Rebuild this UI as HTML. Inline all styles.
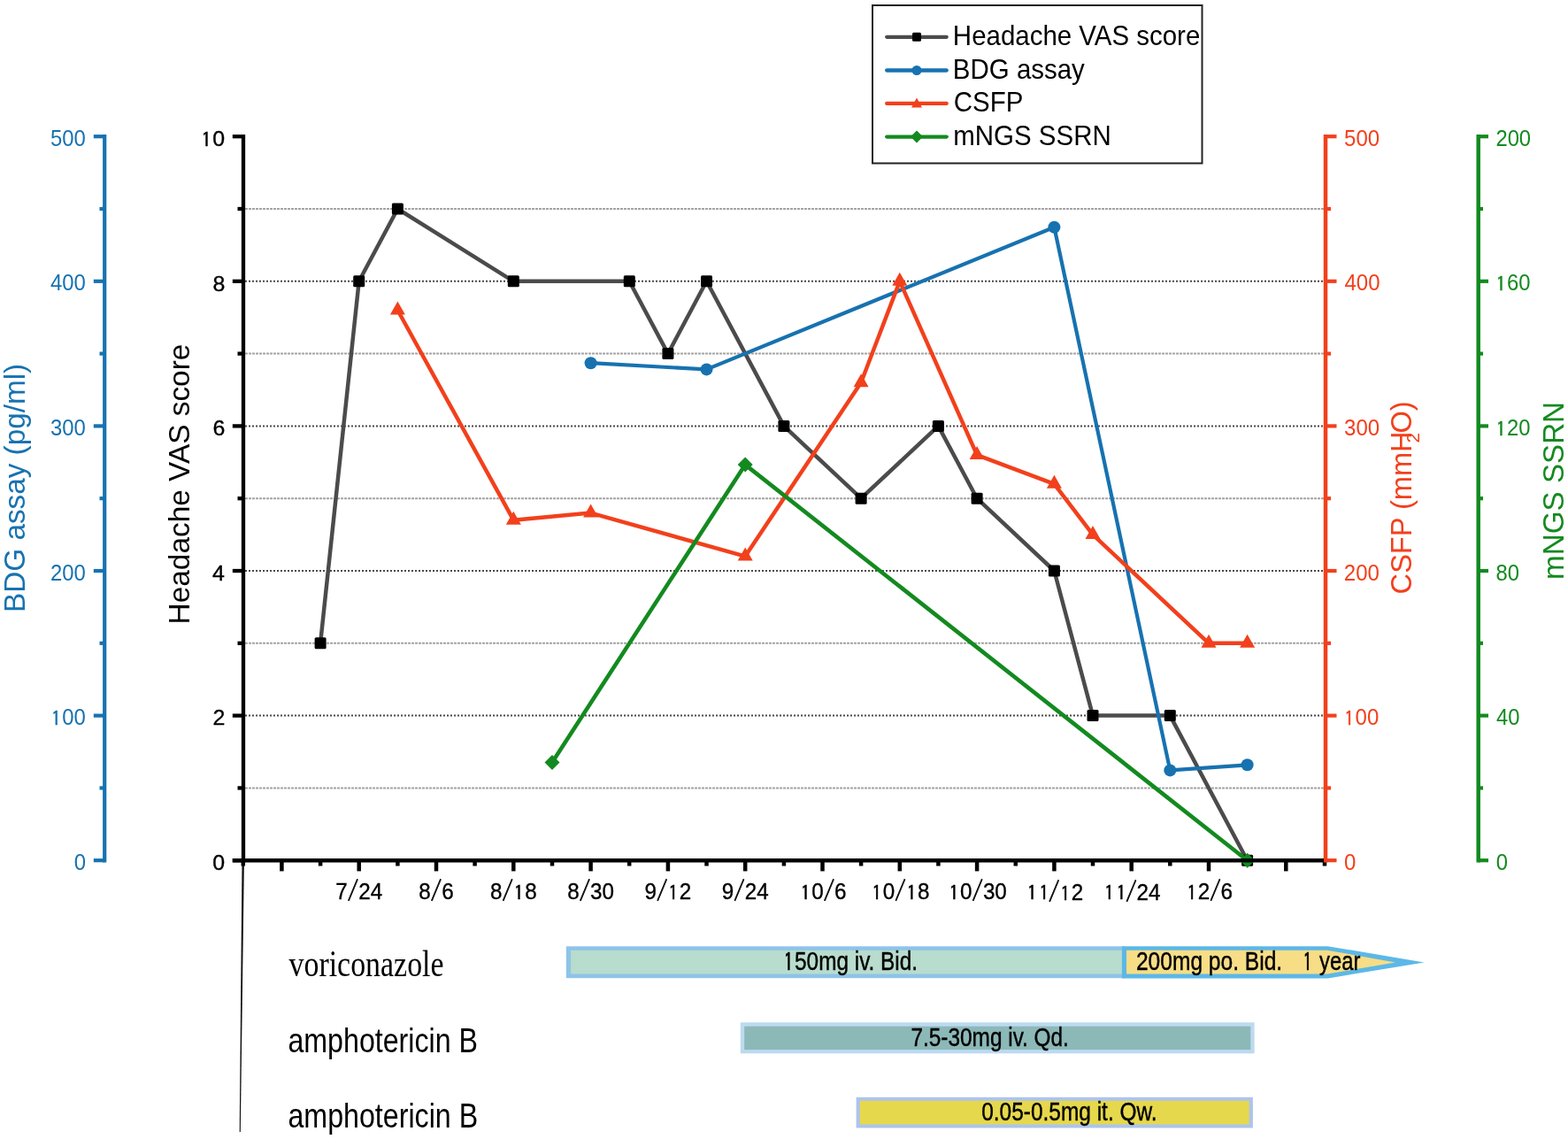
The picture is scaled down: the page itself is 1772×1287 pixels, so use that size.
<!DOCTYPE html><html><head><meta charset="utf-8"><title>Chart</title><style>html,body{margin:0;padding:0;background:#fff;}svg{display:block;}</style></head><body>
<svg width="1772" height="1287" viewBox="0 0 1772 1287">
<rect width="1772" height="1287" fill="#fff"/>
<line x1="277" y1="890.4" x2="1496" y2="890.4" stroke="#a4a4a4" stroke-width="2" stroke-dasharray="3 1"/>
<line x1="277" y1="808.6" x2="1496" y2="808.6" stroke="#4a4a4a" stroke-width="2" stroke-dasharray="2 2"/>
<line x1="277" y1="726.8" x2="1496" y2="726.8" stroke="#a4a4a4" stroke-width="2" stroke-dasharray="3 1"/>
<line x1="277" y1="645.0" x2="1496" y2="645.0" stroke="#4a4a4a" stroke-width="2" stroke-dasharray="2 2"/>
<line x1="277" y1="563.2" x2="1496" y2="563.2" stroke="#a4a4a4" stroke-width="2" stroke-dasharray="3 1"/>
<line x1="277" y1="481.4" x2="1496" y2="481.4" stroke="#4a4a4a" stroke-width="2" stroke-dasharray="2 2"/>
<line x1="277" y1="399.6" x2="1496" y2="399.6" stroke="#a4a4a4" stroke-width="2" stroke-dasharray="3 1"/>
<line x1="277" y1="317.8" x2="1496" y2="317.8" stroke="#4a4a4a" stroke-width="2" stroke-dasharray="2 2"/>
<line x1="277" y1="236.0" x2="1496" y2="236.0" stroke="#a4a4a4" stroke-width="2" stroke-dasharray="3 1"/>
<line x1="118.2" y1="152" x2="118.2" y2="974.5" stroke="#1772b0" stroke-width="4.2"/>
<line x1="105.8" y1="972.2" x2="118.2" y2="972.2" stroke="#1772b0" stroke-width="4.2"/>
<text transform="translate(83.63 982.8) scale(0.9450 1)" font-family="Liberation Sans, Arial, sans-serif" font-size="25.3" fill="#1772b0" color="#1772b0">0</text>
<line x1="112.5" y1="890.4" x2="118.2" y2="890.4" stroke="#1772b0" stroke-width="4.2"/>
<line x1="105.8" y1="808.6" x2="118.2" y2="808.6" stroke="#1772b0" stroke-width="4.2"/>
<text transform="translate(57.03 819.2) scale(0.9450 1)" font-family="Liberation Sans, Arial, sans-serif" font-size="25.3" fill="#1772b0" color="#1772b0"><tspan dx="1.27" dy="1.01" font-family="IPAGothic, sans-serif" font-size="22.01" stroke-width="0.51" stroke="currentColor">1</tspan><tspan dx="1.80" dy="-1.01">00</tspan></text>
<line x1="112.5" y1="726.8" x2="118.2" y2="726.8" stroke="#1772b0" stroke-width="4.2"/>
<line x1="105.8" y1="645.0" x2="118.2" y2="645.0" stroke="#1772b0" stroke-width="4.2"/>
<text transform="translate(57.03 655.6) scale(0.9450 1)" font-family="Liberation Sans, Arial, sans-serif" font-size="25.3" fill="#1772b0" color="#1772b0">200</text>
<line x1="112.5" y1="563.2" x2="118.2" y2="563.2" stroke="#1772b0" stroke-width="4.2"/>
<line x1="105.8" y1="481.4" x2="118.2" y2="481.4" stroke="#1772b0" stroke-width="4.2"/>
<text transform="translate(57.03 492.0) scale(0.9450 1)" font-family="Liberation Sans, Arial, sans-serif" font-size="25.3" fill="#1772b0" color="#1772b0">300</text>
<line x1="112.5" y1="399.6" x2="118.2" y2="399.6" stroke="#1772b0" stroke-width="4.2"/>
<line x1="105.8" y1="317.8" x2="118.2" y2="317.8" stroke="#1772b0" stroke-width="4.2"/>
<text transform="translate(57.03 328.4) scale(0.9450 1)" font-family="Liberation Sans, Arial, sans-serif" font-size="25.3" fill="#1772b0" color="#1772b0">400</text>
<line x1="112.5" y1="236.0" x2="118.2" y2="236.0" stroke="#1772b0" stroke-width="4.2"/>
<line x1="105.8" y1="154.2" x2="118.2" y2="154.2" stroke="#1772b0" stroke-width="4.2"/>
<text transform="translate(57.03 164.8) scale(0.9450 1)" font-family="Liberation Sans, Arial, sans-serif" font-size="25.3" fill="#1772b0" color="#1772b0">500</text>
<text transform="translate(28.2 551.4) rotate(-90)" text-anchor="middle" font-family="Liberation Sans, Arial, sans-serif" font-size="33.3" fill="#1772b0">BDG assay (pg/ml)</text>
<line x1="275" y1="152" x2="275" y2="974.5" stroke="#000" stroke-width="4.3"/>
<line x1="262.8" y1="972.2" x2="275" y2="972.2" stroke="#000" stroke-width="4.3"/>
<text stroke="#000" stroke-width="0.35" transform="translate(240.30 983.0) scale(1.0300 1)" font-family="Liberation Sans, Arial, sans-serif" font-size="24.2" fill="#000" color="#000">0</text>
<line x1="268.5" y1="890.4" x2="275" y2="890.4" stroke="#000" stroke-width="4.3"/>
<line x1="262.8" y1="808.6" x2="275" y2="808.6" stroke="#000" stroke-width="4.3"/>
<text stroke="#000" stroke-width="0.35" transform="translate(240.61 819.4) scale(1.0300 1)" font-family="Liberation Sans, Arial, sans-serif" font-size="24.2" fill="#000" color="#000">2</text>
<line x1="268.5" y1="726.8" x2="275" y2="726.8" stroke="#000" stroke-width="4.3"/>
<line x1="262.8" y1="645.0" x2="275" y2="645.0" stroke="#000" stroke-width="4.3"/>
<text stroke="#000" stroke-width="0.35" transform="translate(240.05 655.8) scale(1.0300 1)" font-family="Liberation Sans, Arial, sans-serif" font-size="24.2" fill="#000" color="#000">4</text>
<line x1="268.5" y1="563.2" x2="275" y2="563.2" stroke="#000" stroke-width="4.3"/>
<line x1="262.8" y1="481.4" x2="275" y2="481.4" stroke="#000" stroke-width="4.3"/>
<text stroke="#000" stroke-width="0.35" transform="translate(240.43 492.2) scale(1.0300 1)" font-family="Liberation Sans, Arial, sans-serif" font-size="24.2" fill="#000" color="#000">6</text>
<line x1="268.5" y1="399.6" x2="275" y2="399.6" stroke="#000" stroke-width="4.3"/>
<line x1="262.8" y1="317.8" x2="275" y2="317.8" stroke="#000" stroke-width="4.3"/>
<text stroke="#000" stroke-width="0.35" transform="translate(240.43 328.6) scale(1.0300 1)" font-family="Liberation Sans, Arial, sans-serif" font-size="24.2" fill="#000" color="#000">8</text>
<line x1="268.5" y1="236.0" x2="275" y2="236.0" stroke="#000" stroke-width="4.3"/>
<line x1="262.8" y1="154.2" x2="275" y2="154.2" stroke="#000" stroke-width="4.3"/>
<text stroke="#000" stroke-width="0.35" transform="translate(226.47 165.0) scale(1.0300 1)" font-family="Liberation Sans, Arial, sans-serif" font-size="24.2" fill="#000" color="#000"><tspan dx="1.21" dy="0.97" font-family="IPAGothic, sans-serif" font-size="21.05" stroke-width="0.48" stroke="currentColor">1</tspan><tspan dx="1.72" dy="-0.97">0</tspan></text>
<text transform="translate(213.5 547) rotate(-90)" text-anchor="middle" font-family="Liberation Sans, Arial, sans-serif" font-size="33.4" fill="#000">Headache VAS score</text>
<polygon points="273.5,974 275.9,974 271.8,1279 270.7,1279" fill="#111"/>
<line x1="274.8" y1="972.2" x2="274.8" y2="978.5" stroke="#000" stroke-width="4.5"/>
<line x1="318.4" y1="972.2" x2="318.4" y2="984.4" stroke="#000" stroke-width="4.5"/>
<line x1="362.1" y1="972.2" x2="362.1" y2="978.5" stroke="#000" stroke-width="4.5"/>
<line x1="405.7" y1="972.2" x2="405.7" y2="984.4" stroke="#000" stroke-width="4.5"/>
<text transform="translate(405.70 1016.4) scale(0.935 1)" text-anchor="middle" font-family="Liberation Sans, Arial, sans-serif" font-size="25.9" fill="#000" color="#000" stroke="#000" stroke-width="0.35">7<tspan font-family="IPAGothic, sans-serif" font-size="26.5" stroke="#000" stroke-width="0.7">/</tspan>24</text>
<line x1="449.4" y1="972.2" x2="449.4" y2="978.5" stroke="#000" stroke-width="4.5"/>
<line x1="493.0" y1="972.2" x2="493.0" y2="984.4" stroke="#000" stroke-width="4.5"/>
<text transform="translate(493.00 1016.4) scale(0.935 1)" text-anchor="middle" font-family="Liberation Sans, Arial, sans-serif" font-size="25.9" fill="#000" color="#000" stroke="#000" stroke-width="0.35">8<tspan font-family="IPAGothic, sans-serif" font-size="26.5" stroke="#000" stroke-width="0.7">/</tspan>6</text>
<line x1="536.6" y1="972.2" x2="536.6" y2="978.5" stroke="#000" stroke-width="4.5"/>
<line x1="580.3" y1="972.2" x2="580.3" y2="984.4" stroke="#000" stroke-width="4.5"/>
<text transform="translate(580.30 1016.4) scale(0.935 1)" text-anchor="middle" font-family="Liberation Sans, Arial, sans-serif" font-size="25.9" fill="#000" color="#000" stroke="#000" stroke-width="0.35">8<tspan font-family="IPAGothic, sans-serif" font-size="26.5" stroke="#000" stroke-width="0.7">/</tspan><tspan dx="1.29" dy="1.04" font-family="IPAGothic, sans-serif" font-size="22.53" stroke-width="0.52" stroke="currentColor">1</tspan><tspan dx="1.84" dy="-1.04">8</tspan></text>
<line x1="624.0" y1="972.2" x2="624.0" y2="978.5" stroke="#000" stroke-width="4.5"/>
<line x1="667.6" y1="972.2" x2="667.6" y2="984.4" stroke="#000" stroke-width="4.5"/>
<text transform="translate(667.60 1016.4) scale(0.935 1)" text-anchor="middle" font-family="Liberation Sans, Arial, sans-serif" font-size="25.9" fill="#000" color="#000" stroke="#000" stroke-width="0.35">8<tspan font-family="IPAGothic, sans-serif" font-size="26.5" stroke="#000" stroke-width="0.7">/</tspan>30</text>
<line x1="711.2" y1="972.2" x2="711.2" y2="978.5" stroke="#000" stroke-width="4.5"/>
<line x1="754.9" y1="972.2" x2="754.9" y2="984.4" stroke="#000" stroke-width="4.5"/>
<text transform="translate(754.90 1016.4) scale(0.935 1)" text-anchor="middle" font-family="Liberation Sans, Arial, sans-serif" font-size="25.9" fill="#000" color="#000" stroke="#000" stroke-width="0.35">9<tspan font-family="IPAGothic, sans-serif" font-size="26.5" stroke="#000" stroke-width="0.7">/</tspan><tspan dx="1.29" dy="1.04" font-family="IPAGothic, sans-serif" font-size="22.53" stroke-width="0.52" stroke="currentColor">1</tspan><tspan dx="1.84" dy="-1.04">2</tspan></text>
<line x1="798.5" y1="972.2" x2="798.5" y2="978.5" stroke="#000" stroke-width="4.5"/>
<line x1="842.2" y1="972.2" x2="842.2" y2="984.4" stroke="#000" stroke-width="4.5"/>
<text transform="translate(842.20 1016.4) scale(0.935 1)" text-anchor="middle" font-family="Liberation Sans, Arial, sans-serif" font-size="25.9" fill="#000" color="#000" stroke="#000" stroke-width="0.35">9<tspan font-family="IPAGothic, sans-serif" font-size="26.5" stroke="#000" stroke-width="0.7">/</tspan>24</text>
<line x1="885.9" y1="972.2" x2="885.9" y2="978.5" stroke="#000" stroke-width="4.5"/>
<line x1="929.5" y1="972.2" x2="929.5" y2="984.4" stroke="#000" stroke-width="4.5"/>
<text transform="translate(929.50 1016.4) scale(0.935 1)" text-anchor="middle" font-family="Liberation Sans, Arial, sans-serif" font-size="25.9" fill="#000" color="#000" stroke="#000" stroke-width="0.35"><tspan dx="1.29" dy="1.04" font-family="IPAGothic, sans-serif" font-size="22.53" stroke-width="0.52" stroke="currentColor">1</tspan><tspan dx="1.84" dy="-1.04">0</tspan><tspan font-family="IPAGothic, sans-serif" font-size="26.5" stroke="#000" stroke-width="0.7">/</tspan>6</text>
<line x1="973.1" y1="972.2" x2="973.1" y2="978.5" stroke="#000" stroke-width="4.5"/>
<line x1="1016.8" y1="972.2" x2="1016.8" y2="984.4" stroke="#000" stroke-width="4.5"/>
<text transform="translate(1016.80 1016.4) scale(0.935 1)" text-anchor="middle" font-family="Liberation Sans, Arial, sans-serif" font-size="25.9" fill="#000" color="#000" stroke="#000" stroke-width="0.35"><tspan dx="1.29" dy="1.04" font-family="IPAGothic, sans-serif" font-size="22.53" stroke-width="0.52" stroke="currentColor">1</tspan><tspan dx="1.84" dy="-1.04">0</tspan><tspan font-family="IPAGothic, sans-serif" font-size="26.5" stroke="#000" stroke-width="0.7">/</tspan><tspan dx="1.29" dy="1.04" font-family="IPAGothic, sans-serif" font-size="22.53" stroke-width="0.52" stroke="currentColor">1</tspan><tspan dx="1.84" dy="-1.04">8</tspan></text>
<line x1="1060.4" y1="972.2" x2="1060.4" y2="978.5" stroke="#000" stroke-width="4.5"/>
<line x1="1104.1" y1="972.2" x2="1104.1" y2="984.4" stroke="#000" stroke-width="4.5"/>
<text transform="translate(1104.10 1016.4) scale(0.935 1)" text-anchor="middle" font-family="Liberation Sans, Arial, sans-serif" font-size="25.9" fill="#000" color="#000" stroke="#000" stroke-width="0.35"><tspan dx="1.29" dy="1.04" font-family="IPAGothic, sans-serif" font-size="22.53" stroke-width="0.52" stroke="currentColor">1</tspan><tspan dx="1.84" dy="-1.04">0</tspan><tspan font-family="IPAGothic, sans-serif" font-size="26.5" stroke="#000" stroke-width="0.7">/</tspan>30</text>
<line x1="1147.8" y1="972.2" x2="1147.8" y2="978.5" stroke="#000" stroke-width="4.5"/>
<line x1="1191.4" y1="972.2" x2="1191.4" y2="984.4" stroke="#000" stroke-width="4.5"/>
<text transform="translate(1191.40 1016.4) scale(0.935 1)" text-anchor="middle" font-family="Liberation Sans, Arial, sans-serif" font-size="25.9" fill="#000" color="#000" stroke="#000" stroke-width="0.35"><tspan dx="1.29 3.13" dy="1.04" font-family="IPAGothic, sans-serif" font-size="22.53" stroke-width="0.52" stroke="currentColor">11</tspan><tspan font-family="IPAGothic, sans-serif" font-size="26.5" stroke="#000" stroke-width="0.7">/</tspan><tspan dx="1.29" dy="1.04" font-family="IPAGothic, sans-serif" font-size="22.53" stroke-width="0.52" stroke="currentColor">1</tspan><tspan dx="1.84" dy="-1.04">2</tspan></text>
<line x1="1235.0" y1="972.2" x2="1235.0" y2="978.5" stroke="#000" stroke-width="4.5"/>
<line x1="1278.7" y1="972.2" x2="1278.7" y2="984.4" stroke="#000" stroke-width="4.5"/>
<text transform="translate(1278.70 1016.4) scale(0.935 1)" text-anchor="middle" font-family="Liberation Sans, Arial, sans-serif" font-size="25.9" fill="#000" color="#000" stroke="#000" stroke-width="0.35"><tspan dx="1.29 3.13" dy="1.04" font-family="IPAGothic, sans-serif" font-size="22.53" stroke-width="0.52" stroke="currentColor">11</tspan><tspan font-family="IPAGothic, sans-serif" font-size="26.5" stroke="#000" stroke-width="0.7">/</tspan>24</text>
<line x1="1322.3" y1="972.2" x2="1322.3" y2="978.5" stroke="#000" stroke-width="4.5"/>
<line x1="1366.0" y1="972.2" x2="1366.0" y2="984.4" stroke="#000" stroke-width="4.5"/>
<text transform="translate(1366.00 1016.4) scale(0.935 1)" text-anchor="middle" font-family="Liberation Sans, Arial, sans-serif" font-size="25.9" fill="#000" color="#000" stroke="#000" stroke-width="0.35"><tspan dx="1.29" dy="1.04" font-family="IPAGothic, sans-serif" font-size="22.53" stroke-width="0.52" stroke="currentColor">1</tspan><tspan dx="1.84" dy="-1.04">2</tspan><tspan font-family="IPAGothic, sans-serif" font-size="26.5" stroke="#000" stroke-width="0.7">/</tspan>6</text>
<line x1="1409.6" y1="972.2" x2="1409.6" y2="978.5" stroke="#000" stroke-width="4.5"/>
<line x1="1453.3" y1="972.2" x2="1453.3" y2="984.4" stroke="#000" stroke-width="4.5"/>
<line x1="1497.0" y1="972.2" x2="1497.0" y2="978.5" stroke="#000" stroke-width="4.5"/>
<line x1="1498" y1="152" x2="1498" y2="974.5" stroke="#f2401c" stroke-width="4.5"/>
<line x1="1498" y1="972.2" x2="1510.5" y2="972.2" stroke="#f2401c" stroke-width="4.2"/>
<text transform="translate(1519.04 982.8) scale(0.9500 1)" font-family="Liberation Sans, Arial, sans-serif" font-size="25.3" fill="#f2401c" color="#f2401c">0</text>
<line x1="1498" y1="890.4" x2="1504" y2="890.4" stroke="#f2401c" stroke-width="4.2"/>
<line x1="1498" y1="808.6" x2="1510.5" y2="808.6" stroke="#f2401c" stroke-width="4.2"/>
<text transform="translate(1518.20 819.2) scale(0.9500 1)" font-family="Liberation Sans, Arial, sans-serif" font-size="25.3" fill="#f2401c" color="#f2401c"><tspan dx="1.27" dy="1.01" font-family="IPAGothic, sans-serif" font-size="22.01" stroke-width="0.51" stroke="currentColor">1</tspan><tspan dx="1.80" dy="-1.01">00</tspan></text>
<line x1="1498" y1="726.8" x2="1504" y2="726.8" stroke="#f2401c" stroke-width="4.2"/>
<line x1="1498" y1="645.0" x2="1510.5" y2="645.0" stroke="#f2401c" stroke-width="4.2"/>
<text transform="translate(1518.80 655.6) scale(0.9500 1)" font-family="Liberation Sans, Arial, sans-serif" font-size="25.3" fill="#f2401c" color="#f2401c">200</text>
<line x1="1498" y1="563.2" x2="1504" y2="563.2" stroke="#f2401c" stroke-width="4.2"/>
<line x1="1498" y1="481.4" x2="1510.5" y2="481.4" stroke="#f2401c" stroke-width="4.2"/>
<text transform="translate(1519.10 492.0) scale(0.9500 1)" font-family="Liberation Sans, Arial, sans-serif" font-size="25.3" fill="#f2401c" color="#f2401c">300</text>
<line x1="1498" y1="399.6" x2="1504" y2="399.6" stroke="#f2401c" stroke-width="4.2"/>
<line x1="1498" y1="317.8" x2="1510.5" y2="317.8" stroke="#f2401c" stroke-width="4.2"/>
<text transform="translate(1519.46 328.4) scale(0.9500 1)" font-family="Liberation Sans, Arial, sans-serif" font-size="25.3" fill="#f2401c" color="#f2401c">400</text>
<line x1="1498" y1="236.0" x2="1504" y2="236.0" stroke="#f2401c" stroke-width="4.2"/>
<line x1="1498" y1="154.2" x2="1510.5" y2="154.2" stroke="#f2401c" stroke-width="4.2"/>
<text transform="translate(1519.04 164.8) scale(0.9500 1)" font-family="Liberation Sans, Arial, sans-serif" font-size="25.3" fill="#f2401c" color="#f2401c">500</text>
<text transform="translate(1594.7 671.4) rotate(-90)" font-family="Liberation Sans, Arial, sans-serif" font-size="32.6" fill="#f2401c">CSFP (mmH<tspan font-size="21" dx="-13" dy="9.5">2</tspan><tspan dx="-0.8" dy="-9.5">O)</tspan></text>
<line x1="1670.7" y1="152" x2="1670.7" y2="974.5" stroke="#138a1f" stroke-width="4.5"/>
<line x1="1670.7" y1="972.2" x2="1682" y2="972.2" stroke="#138a1f" stroke-width="4.2"/>
<text transform="translate(1690.65 982.8) scale(0.9400 1)" font-family="Liberation Sans, Arial, sans-serif" font-size="25.3" fill="#138a1f" color="#138a1f">0</text>
<line x1="1670.7" y1="890.4" x2="1676" y2="890.4" stroke="#138a1f" stroke-width="4.2"/>
<line x1="1670.7" y1="808.6" x2="1682" y2="808.6" stroke="#138a1f" stroke-width="4.2"/>
<text transform="translate(1691.06 819.2) scale(0.9400 1)" font-family="Liberation Sans, Arial, sans-serif" font-size="25.3" fill="#138a1f" color="#138a1f">40</text>
<line x1="1670.7" y1="726.8" x2="1676" y2="726.8" stroke="#138a1f" stroke-width="4.2"/>
<line x1="1670.7" y1="645.0" x2="1682" y2="645.0" stroke="#138a1f" stroke-width="4.2"/>
<text transform="translate(1690.59 655.6) scale(0.9400 1)" font-family="Liberation Sans, Arial, sans-serif" font-size="25.3" fill="#138a1f" color="#138a1f">80</text>
<line x1="1670.7" y1="563.2" x2="1676" y2="563.2" stroke="#138a1f" stroke-width="4.2"/>
<line x1="1670.7" y1="481.4" x2="1682" y2="481.4" stroke="#138a1f" stroke-width="4.2"/>
<text transform="translate(1689.82 492.0) scale(0.9400 1)" font-family="Liberation Sans, Arial, sans-serif" font-size="25.3" fill="#138a1f" color="#138a1f"><tspan dx="1.27" dy="1.01" font-family="IPAGothic, sans-serif" font-size="22.01" stroke-width="0.51" stroke="currentColor">1</tspan><tspan dx="1.80" dy="-1.01">20</tspan></text>
<line x1="1670.7" y1="399.6" x2="1676" y2="399.6" stroke="#138a1f" stroke-width="4.2"/>
<line x1="1670.7" y1="317.8" x2="1682" y2="317.8" stroke="#138a1f" stroke-width="4.2"/>
<text transform="translate(1689.82 328.4) scale(0.9400 1)" font-family="Liberation Sans, Arial, sans-serif" font-size="25.3" fill="#138a1f" color="#138a1f"><tspan dx="1.27" dy="1.01" font-family="IPAGothic, sans-serif" font-size="22.01" stroke-width="0.51" stroke="currentColor">1</tspan><tspan dx="1.80" dy="-1.01">60</tspan></text>
<line x1="1670.7" y1="236.0" x2="1676" y2="236.0" stroke="#138a1f" stroke-width="4.2"/>
<line x1="1670.7" y1="154.2" x2="1682" y2="154.2" stroke="#138a1f" stroke-width="4.2"/>
<text transform="translate(1690.41 164.8) scale(0.9400 1)" font-family="Liberation Sans, Arial, sans-serif" font-size="25.3" fill="#138a1f" color="#138a1f">200</text>
<text transform="translate(1766.8 554.4) rotate(-90)" text-anchor="middle" font-family="Liberation Sans, Arial, sans-serif" font-size="33.2" fill="#138a1f">mNGS SSRN</text>
<polyline points="362.1,726.8 405.7,317.8 449.4,236.0 580.3,317.8 711.2,317.8 754.9,399.6 798.5,317.8 885.9,481.4 973.1,563.2 1060.4,481.4 1104.1,563.2 1191.4,645.0 1235.0,808.6 1322.3,808.6 1409.6,972.2" fill="none" stroke="#4b4b4b" stroke-width="4.5" stroke-linejoin="round"/>
<rect x="355.6" y="720.3" width="13" height="13" rx="1.5" fill="#000"/>
<rect x="399.2" y="311.3" width="13" height="13" rx="1.5" fill="#000"/>
<rect x="442.9" y="229.5" width="13" height="13" rx="1.5" fill="#000"/>
<rect x="573.8" y="311.3" width="13" height="13" rx="1.5" fill="#000"/>
<rect x="704.8" y="311.3" width="13" height="13" rx="1.5" fill="#000"/>
<rect x="748.4" y="393.1" width="13" height="13" rx="1.5" fill="#000"/>
<rect x="792.0" y="311.3" width="13" height="13" rx="1.5" fill="#000"/>
<rect x="879.4" y="474.9" width="13" height="13" rx="1.5" fill="#000"/>
<rect x="966.6" y="556.7" width="13" height="13" rx="1.5" fill="#000"/>
<rect x="1053.9" y="474.9" width="13" height="13" rx="1.5" fill="#000"/>
<rect x="1097.6" y="556.7" width="13" height="13" rx="1.5" fill="#000"/>
<rect x="1184.9" y="638.5" width="13" height="13" rx="1.5" fill="#000"/>
<rect x="1228.5" y="802.1" width="13" height="13" rx="1.5" fill="#000"/>
<rect x="1315.8" y="802.1" width="13" height="13" rx="1.5" fill="#000"/>
<rect x="1403.1" y="965.7" width="13" height="13" rx="1.5" fill="#000"/>
<polyline points="667.6,410.2 798.5,417.4 1191.4,256.7 1322.3,870.4 1409.6,864.3" fill="none" stroke="#1772b0" stroke-width="4.2" stroke-linejoin="round"/>
<circle cx="667.6" cy="410.2" r="7.0" fill="#1772b0"/>
<circle cx="798.5" cy="417.4" r="7.0" fill="#1772b0"/>
<circle cx="1191.4" cy="256.7" r="7.0" fill="#1772b0"/>
<circle cx="1322.3" cy="870.4" r="7.0" fill="#1772b0"/>
<circle cx="1409.6" cy="864.3" r="7.0" fill="#1772b0"/>
<polyline points="449.4,350.5 580.3,587.7 667.6,579.6 842.2,628.6 973.1,432.3 1016.8,317.8 1104.1,514.1 1191.4,546.8 1235.0,604.1 1366.0,726.8 1409.6,726.8" fill="none" stroke="#f2401c" stroke-width="4.5" stroke-linejoin="round"/>
<polygon points="449.4,340.5 457.9,355.5 440.9,355.5" fill="#f2401c"/>
<polygon points="580.3,577.7 588.8,592.7 571.8,592.7" fill="#f2401c"/>
<polygon points="667.6,569.6 676.1,584.6 659.1,584.6" fill="#f2401c"/>
<polygon points="842.2,618.6 850.7,633.6 833.7,633.6" fill="#f2401c"/>
<polygon points="973.1,422.3 981.6,437.3 964.6,437.3" fill="#f2401c"/>
<polygon points="1016.8,307.8 1025.3,322.8 1008.3,322.8" fill="#f2401c"/>
<polygon points="1104.1,504.1 1112.6,519.1 1095.6,519.1" fill="#f2401c"/>
<polygon points="1191.4,536.8 1199.9,551.8 1182.9,551.8" fill="#f2401c"/>
<polygon points="1235.0,594.1 1243.5,609.1 1226.5,609.1" fill="#f2401c"/>
<polygon points="1366.0,716.8 1374.5,731.8 1357.5,731.8" fill="#f2401c"/>
<polygon points="1409.6,716.8 1418.1,731.8 1401.1,731.8" fill="#f2401c"/>
<polyline points="624.0,861.4 842.2,525.1 1409.6,972.2" fill="none" stroke="#138a1f" stroke-width="4.6" stroke-linejoin="round"/>
<polygon points="624.0,852.9 632.5,861.4 624.0,869.9 615.5,861.4" fill="#138a1f"/>
<polygon points="842.2,516.6 850.7,525.1 842.2,533.6 833.7,525.1" fill="#138a1f"/>
<polygon points="1409.6,963.7 1418.1,972.2 1409.6,980.7 1401.1,972.2" fill="#138a1f"/>
<line x1="262.8" y1="972.2" x2="1496" y2="972.2" stroke="#000" stroke-width="4.5"/>
<rect x="986" y="6" width="372.5" height="178.5" fill="#fff" stroke="#222" stroke-width="2"/>
<line x1="1002.2" y1="41.8" x2="1069.7" y2="41.8" stroke="#4b4b4b" stroke-width="4.3" stroke-linecap="round"/>
<rect x="1031.0" y="36.8" width="10" height="10" rx="1.5" fill="#000"/>
<text transform="translate(1076.87 51.3) scale(0.9570 1)" font-family="Liberation Sans, Arial, sans-serif" font-size="30.8" fill="#000" color="#000">Headache VAS score</text>
<line x1="1002.2" y1="79.5" x2="1069.7" y2="79.5" stroke="#1772b0" stroke-width="4.3" stroke-linecap="round"/>
<circle cx="1036.0" cy="79.5" r="5.5" fill="#1772b0"/>
<text transform="translate(1076.87 89.0) scale(0.9570 1)" font-family="Liberation Sans, Arial, sans-serif" font-size="30.8" fill="#000" color="#000">BDG assay</text>
<line x1="1002.2" y1="116.9" x2="1069.7" y2="116.9" stroke="#f2401c" stroke-width="4.3" stroke-linecap="round"/>
<polygon points="1036.0,110.6 1042.0,121.6 1030.0,121.6" fill="#f2401c"/>
<text transform="translate(1077.83 126.4) scale(0.9570 1)" font-family="Liberation Sans, Arial, sans-serif" font-size="30.8" fill="#000" color="#000">CSFP</text>
<line x1="1002.2" y1="154.6" x2="1069.7" y2="154.6" stroke="#138a1f" stroke-width="4.3" stroke-linecap="round"/>
<polygon points="1036.0,147.6 1043.0,154.6 1036.0,161.6 1029.0,154.6" fill="#138a1f"/>
<text transform="translate(1077.31 164.1) scale(0.9570 1)" font-family="Liberation Sans, Arial, sans-serif" font-size="30.8" fill="#000" color="#000">mNGS SSRN</text>
<rect x="639.8" y="1069.3" width="632.2" height="35.9" fill="#8ec4e9"/><rect x="645.1" y="1073.8" width="626.9" height="26.7" fill="#b8dccd"/>
<polygon points="1267.9,1069.2 1500.6,1069.2 1609.5,1087.4 1500.6,1105.5 1267.9,1105.5" fill="#5cb8e6"/>
<polygon points="1273.0,1073.7 1500.0,1073.7 1577,1087.4 1500.0,1100.6 1273.0,1100.6" fill="#f7dd86"/>
<rect x="836.8" y="1155.3" width="580.8" height="35.0" fill="#bcdaf0"/><rect x="841.2" y="1159.7" width="572.1" height="26.4" fill="#8cb8b8"/>
<rect x="967.6" y="1239.8" width="448.3" height="34.7" fill="#adc4ec"/><rect x="971.8" y="1243.8" width="439.9" height="26.7" fill="#e6d84c"/>
<text transform="translate(884.47 1095.8) scale(0.8022 1)" font-family="Liberation Sans, Arial, sans-serif" font-size="30.4" fill="#000" color="#000" stroke="#000" stroke-width="0.45"><tspan dx="1.52" dy="1.22" font-family="IPAGothic, sans-serif" font-size="26.45" stroke-width="0.61" stroke="currentColor">1</tspan><tspan dx="2.16" dy="-1.22">50mg iv. Bid.</tspan></text>
<text transform="translate(1283.97 1095.8) scale(0.8079 1)" font-family="Liberation Sans, Arial, sans-serif" font-size="30.4" fill="#000" color="#000" stroke="#000" stroke-width="0.45">200mg po. Bid.</text>
<text transform="translate(1471.22 1095.8) scale(0.7826 1)" font-family="Liberation Sans, Arial, sans-serif" font-size="30.4" fill="#000" color="#000" stroke="#000" stroke-width="0.45"><tspan dx="1.52" dy="1.22" font-family="IPAGothic, sans-serif" font-size="26.45" stroke-width="0.61" stroke="currentColor">1</tspan><tspan dx="2.16" dy="-1.22"> year</tspan></text>
<text transform="translate(1029.48 1181.9) scale(0.8020 1)" font-family="Liberation Sans, Arial, sans-serif" font-size="30.4" fill="#000" color="#000" stroke="#000" stroke-width="0.45">7.5-30mg iv. Qd.</text>
<text transform="translate(1109.22 1265.6) scale(0.8153 1)" font-family="Liberation Sans, Arial, sans-serif" font-size="30.0" fill="#000" color="#000" stroke="#000" stroke-width="0.45">0.05-0.5mg it. Qw.</text>
<text transform="translate(326.50 1103.3) scale(0.8173 1)" font-family="Liberation Serif, Times New Roman, serif" font-size="41.5" fill="#000" color="#000">voriconazole</text>
<text transform="translate(325.43 1189.3) scale(0.8381 1)" font-family="Liberation Sans, Arial, sans-serif" font-size="38.4" fill="#000" color="#000">amphotericin B</text>
<text transform="translate(325.43 1273.6) scale(0.8385 1)" font-family="Liberation Sans, Arial, sans-serif" font-size="38.4" fill="#000" color="#000">amphotericin B</text>
</svg></body></html>
